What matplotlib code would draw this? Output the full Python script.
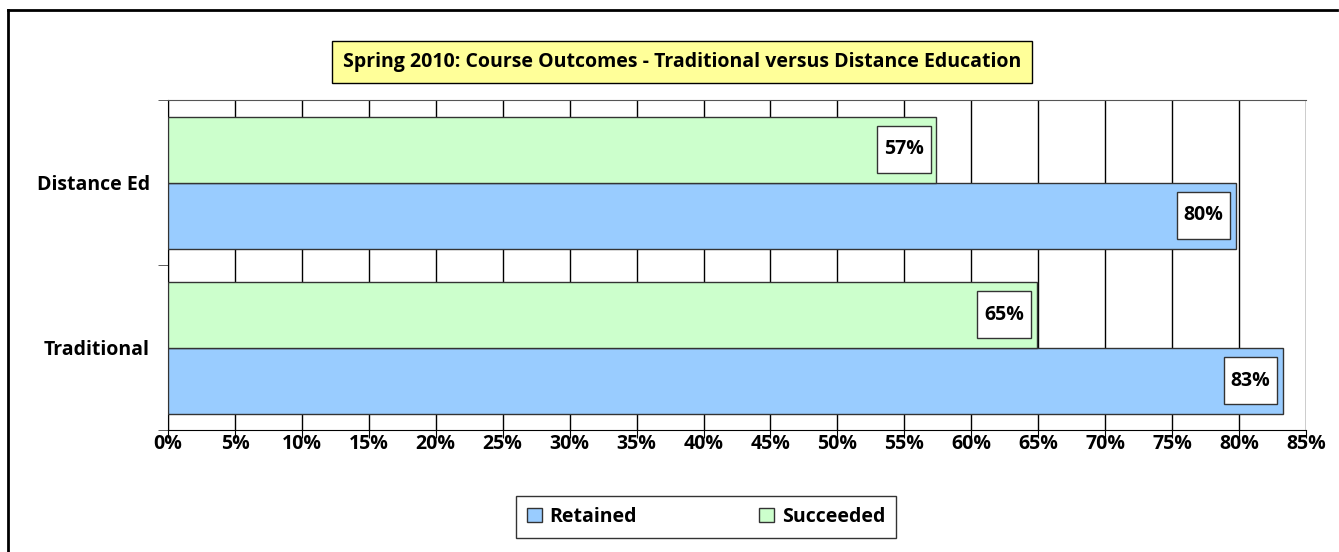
import matplotlib.pyplot as plt
import numpy as np
from matplotlib.patches import Rectangle
from matplotlib.lines import Line2D
from matplotlib.path import Path

# Chart data
categories = ["Traditional", "Distance Ed"]
retained = [83.3, 79.8]
succeeded = [64.9, 57.4]
retained_labels = ["83%", "80%"]
succeeded_labels = ["65%", "57%"]
ticks = list(range(0, 90, 5))

plt.rcParams['font.family'] = ['Open Sans', 'DejaVu Sans']
plt.rcParams['font.weight'] = 'bold'


# box with separate horizontal / vertical padding (Excel-like label boxes)
def label_box(x0, y0, width, height, mutation_size):
    px = 0.35 * mutation_size
    py = 0.7 * mutation_size
    x0, y0 = x0 - px, y0 - py
    x1, y1 = x0 + width + 2 * px, y0 + height + 2 * py
    return Path([(x0, y0), (x1, y0), (x1, y1), (x0, y1), (x0, y0)], closed=True)


W, H = 1339, 552
fig = plt.figure(figsize=(W / 100, H / 100), dpi=100)
ax = fig.add_axes([168 / W, 1 - 430 / H, (1306 - 168) / W, 330 / H])

y = np.arange(len(categories))
h = 0.4
blue = "#99CCFF"
green = "#CCFFCC"

ax.barh(y - h / 2, retained, height=h, color=blue, edgecolor="#333333", linewidth=1, zorder=3)
ax.barh(y + h / 2, succeeded, height=h, color=green, edgecolor="#333333", linewidth=1, zorder=3)

# value labels in white boxes at bar ends
box = dict(boxstyle=label_box, facecolor="white", edgecolor="#333333", linewidth=1)
for i in range(len(categories)):
    ax.text(retained[i] - 0.95, y[i] - h / 2, retained_labels[i], ha="right", va="center",
            fontsize=14, fontweight="bold", bbox=box, zorder=5)
    ax.text(succeeded[i] - 0.95, y[i] + h / 2, succeeded_labels[i], ha="right", va="center",
            fontsize=14, fontweight="bold", bbox=box, zorder=5)

ax.set_xlim(0, 85)
ax.set_ylim(-0.5, 1.5)
ax.set_xticks(ticks)
ax.set_xticklabels([f"{t}%" for t in ticks], fontsize=14, fontweight="bold")
ax.set_yticks(y)
ax.set_yticklabels(categories, fontsize=14, fontweight="bold")
ax.set_yticks([-0.5, 0.5, 1.5], minor=True)
ax.tick_params(axis="y", which="major", length=0, pad=13)
ax.tick_params(axis="y", which="minor", length=7, color="#444444")
ax.tick_params(axis="x", length=6, pad=-3)
ax.grid(axis="x", color="black", linewidth=1, zorder=0)
ax.spines["right"].set_visible(False)
ax.spines["top"].set_color("#555555")
ax.spines["left"].set_color("black")
ax.spines["bottom"].set_color("black")

# title in yellow box
fig.text(682 / W, 1 - 62 / H, "Spring 2010: Course Outcomes - Traditional versus Distance Education",
         ha="center", va="center", fontsize=14, fontweight="bold",
         bbox=dict(boxstyle="square,pad=0.55", facecolor="#FFFF99", edgecolor="black", linewidth=1))

# legend
leg = fig.legend([Rectangle((0, 0), 1, 1, facecolor=blue, edgecolor="#333333"),
                  Rectangle((0, 0), 1, 1, facecolor=green, edgecolor="#333333")],
                 ["Retained", "Succeeded"], loc="center", bbox_to_anchor=(706 / W, 1 - 517 / H),
                 ncol=2, frameon=True, fancybox=False, edgecolor="black",
                 handlelength=0.75, handleheight=0.75, handletextpad=0.4, columnspacing=6.3,
                 borderpad=0.55, borderaxespad=0, prop={'weight': 'bold', 'size': 14})
leg.get_frame().set_linewidth(1)

# outer chart border (only top and left edges fall inside the image)
fig.add_artist(Line2D([8 / W, 8 / W], [0, 1 - 10 / H], transform=fig.transFigure, color="black", linewidth=2))
fig.add_artist(Line2D([8 / W, 1337 / W], [1 - 10 / H, 1 - 10 / H], transform=fig.transFigure,
                      color="black", linewidth=2))

fig.savefig("out.png", dpi=100)
